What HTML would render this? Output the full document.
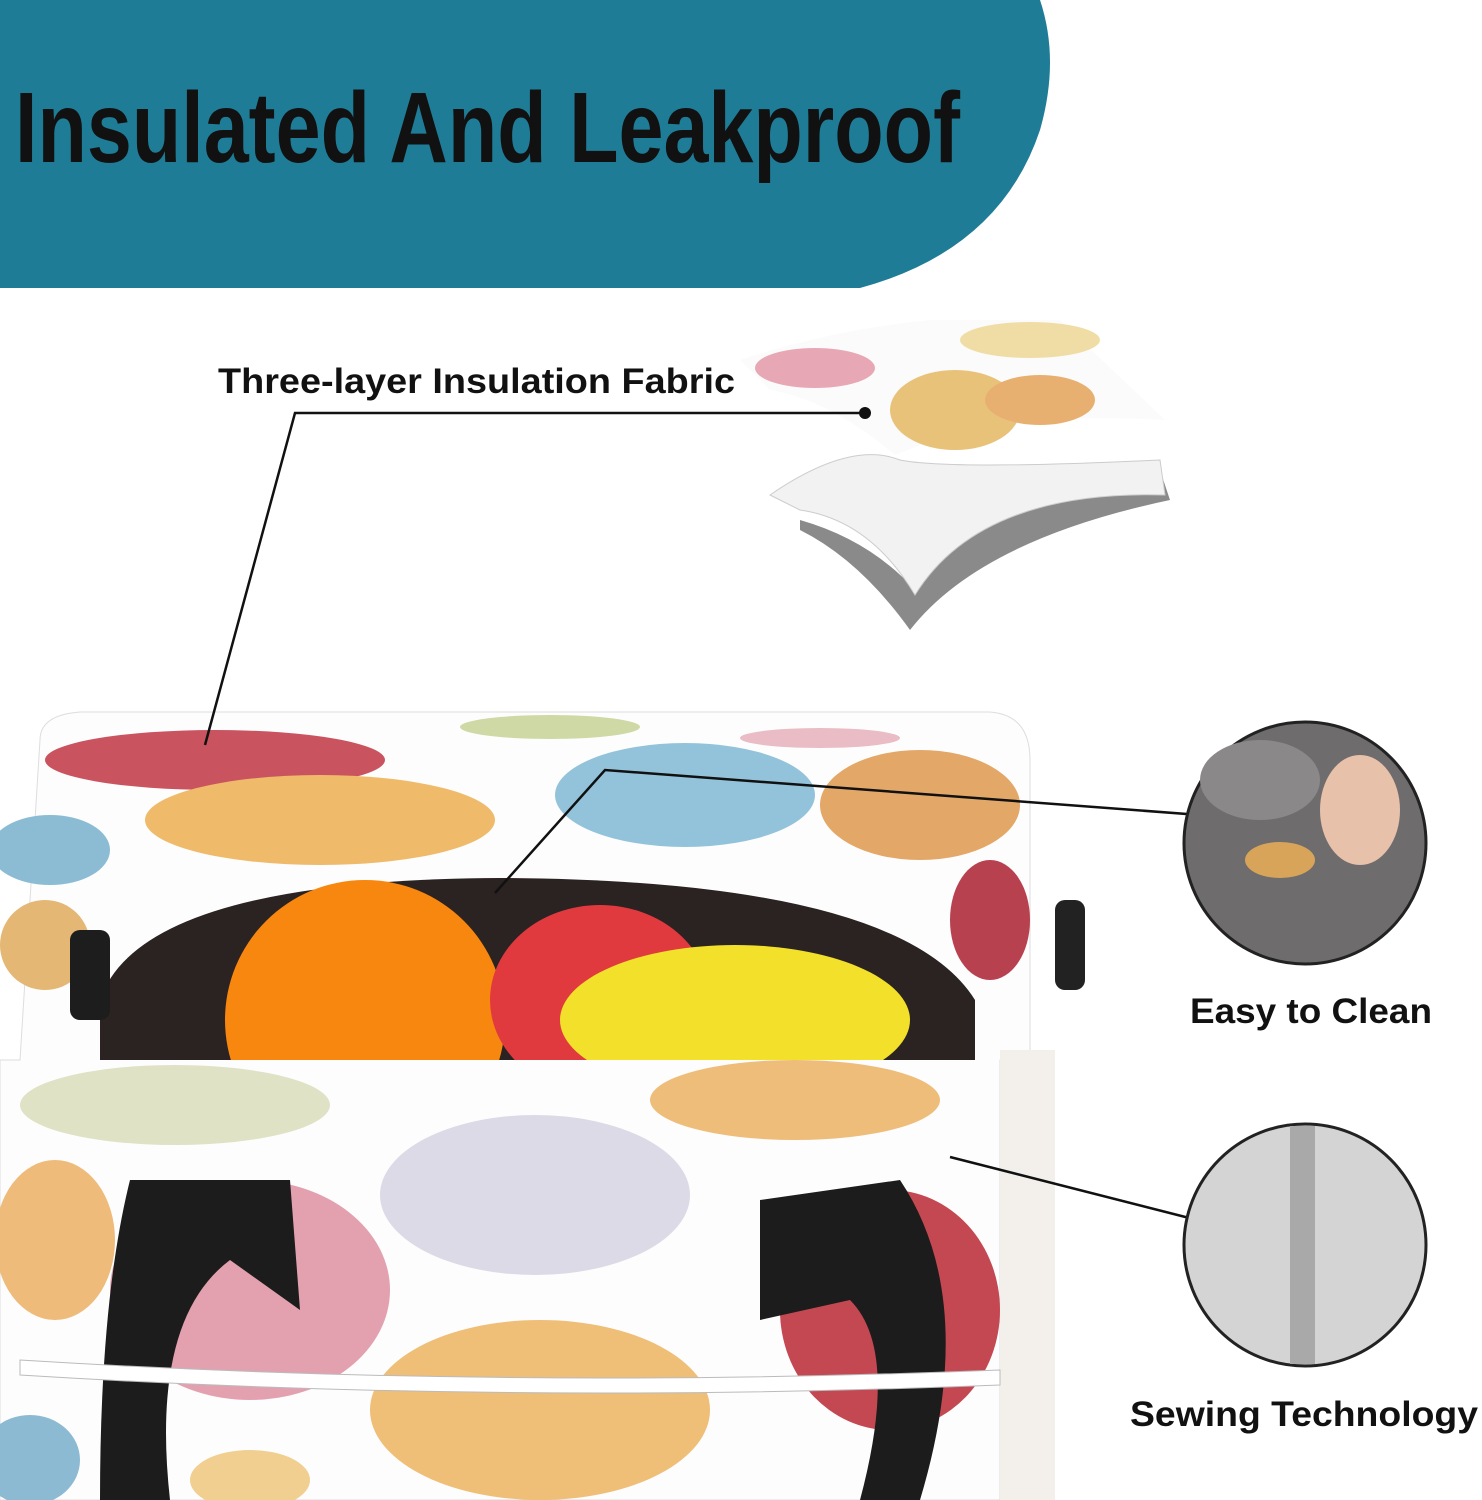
<!DOCTYPE html>
<html><head><meta charset="utf-8"><style>
html,body{margin:0;padding:0;background:#fff;}
svg{display:block}
text{font-family:"Liberation Sans",sans-serif;}
</style></head><body>
<svg width="1482" height="1500" viewBox="0 0 1482 1500" xmlns="http://www.w3.org/2000/svg">
<defs><clipPath id="op"><rect x="0" y="860" width="1000" height="200"/></clipPath></defs>
<rect width="1482" height="1500" fill="#fff"/>
<!-- banner -->
<path d="M0 0 H1040 Q1060 60 1040 130 Q1000 250 860 288 H0 Z" fill="#1f7c97"/>
<text x="15" y="162" font-size="100" font-weight="bold" fill="#111" textLength="945" lengthAdjust="spacingAndGlyphs">Insulated And Leakproof</text>

<!-- fabric layers -->
<path d="M800 530 Q860 560 910 630 Q980 540 1170 500 L1160 470 Q960 500 915 590 Q870 540 800 520 Z" fill="#8a8a8a"/>
<path d="M770 495 Q850 440 900 460 Q950 470 1160 460 L1165 495 Q980 490 915 595 Q870 520 800 510 Z" fill="#f2f2f2" stroke="#ccc"/>
<path d="M740 360 Q830 330 930 320 L1060 320 L1165 420 Q1000 410 895 455 Q830 400 770 390 Z" fill="#fbfbfb"/>
<ellipse cx="815" cy="368" rx="60" ry="20" fill="#e7a7b4"/>
<ellipse cx="955" cy="410" rx="65" ry="40" fill="#e9c27a"/>
<ellipse cx="1040" cy="400" rx="55" ry="25" fill="#e8b070"/>
<ellipse cx="1030" cy="340" rx="70" ry="18" fill="#f0dca5"/>

<!-- bag -->
<path d="M40 740 Q40 715 80 712 L990 712 Q1030 715 1030 760 L1030 1060 L1000 1060 L1000 1500 L0 1500 L0 1060 L20 1060 Z" fill="#fdfdfd" stroke="#ddd"/>
<rect x="1000" y="1050" width="55" height="450" fill="#f3f0ec"/>
<ellipse cx="215" cy="760" rx="170" ry="30" fill="#c9545f"/>
<ellipse cx="320" cy="820" rx="175" ry="45" fill="#efba6a"/>
<ellipse cx="685" cy="795" rx="130" ry="52" fill="#93c3da"/>
<ellipse cx="920" cy="805" rx="100" ry="55" fill="#e3a868"/>
<ellipse cx="50" cy="850" rx="60" ry="35" fill="#8bbcd4"/>
<ellipse cx="550" cy="727" rx="90" ry="12" fill="#cfd9a5"/>
<ellipse cx="820" cy="738" rx="80" ry="10" fill="#e9bcc6"/>
<ellipse cx="45" cy="945" rx="45" ry="45" fill="#e4b774"/>
<ellipse cx="990" cy="920" rx="40" ry="60" fill="#b8414f"/>
<path d="M100 1000 Q140 880 500 878 Q900 880 975 1000 L975 1060 L100 1060 Z" fill="#2b2222"/>
<g clip-path="url(#op)">
<circle cx="365" cy="1020" r="140" fill="#f7870f"/>
<ellipse cx="600" cy="1000" rx="110" ry="95" fill="#e03a3f"/>
<ellipse cx="735" cy="1020" rx="175" ry="75" fill="#f3e02a"/>
</g>
<rect x="70" y="930" width="40" height="90" rx="10" fill="#1d1d1d"/>
<rect x="1055" y="900" width="30" height="90" rx="10" fill="#222"/>
<ellipse cx="175" cy="1105" rx="155" ry="40" fill="#dfe2c5"/>
<ellipse cx="795" cy="1100" rx="145" ry="40" fill="#efbd7a"/>
<ellipse cx="535" cy="1195" rx="155" ry="80" fill="#dcdae6"/>
<ellipse cx="250" cy="1290" rx="140" ry="110" fill="#e3a1b0"/>
<ellipse cx="55" cy="1240" rx="60" ry="80" fill="#eebb7a"/>
<ellipse cx="890" cy="1310" rx="110" ry="120" fill="#c44852"/>
<ellipse cx="540" cy="1410" rx="170" ry="90" fill="#efbe77"/>
<ellipse cx="30" cy="1460" rx="50" ry="45" fill="#8cbad3"/>
<ellipse cx="250" cy="1480" rx="60" ry="30" fill="#f0cf90"/>
<path d="M130 1180 L290 1180 L300 1310 L230 1260 Q150 1320 170 1500 L100 1500 Q100 1300 130 1180 Z" fill="#1c1c1c"/>
<path d="M760 1200 L900 1180 Q980 1300 920 1500 L860 1500 Q900 1350 850 1300 L760 1320 Z" fill="#1c1c1c"/>
<path d="M20 1360 Q500 1390 1000 1370 L1000 1385 Q500 1405 20 1375 Z" fill="#fff" stroke="#bbb"/>

<!-- connectors -->
<g stroke="#111" stroke-width="2.5" fill="none">
<polyline points="865,413 295,413 205,745"/>
<polyline points="1200,815 605,770 495,893"/>
<line x1="950" y1="1157" x2="1205" y2="1222"/>
</g>
<circle cx="865" cy="413" r="6" fill="#111"/>
<circle cx="1200" cy="815" r="6" fill="#111"/>
<circle cx="1205" cy="1222" r="6" fill="#111"/>

<text x="218" y="393" font-size="35" font-weight="bold" fill="#111" textLength="517" lengthAdjust="spacingAndGlyphs">Three-layer Insulation Fabric</text>
<text x="1190" y="1023" font-size="35" font-weight="bold" fill="#111" textLength="242" lengthAdjust="spacingAndGlyphs">Easy to Clean</text>
<text x="1130" y="1426" font-size="35" font-weight="bold" fill="#111" textLength="348" lengthAdjust="spacingAndGlyphs">Sewing Technology</text>

<circle cx="1305" cy="843" r="121" fill="#6e6c6c" stroke="#222" stroke-width="3"/>
<ellipse cx="1260" cy="780" rx="60" ry="40" fill="#8a8888"/>
<ellipse cx="1360" cy="810" rx="40" ry="55" fill="#e8c1aa"/>
<ellipse cx="1280" cy="860" rx="35" ry="18" fill="#d8a45a"/>
<circle cx="1305" cy="1245" r="121" fill="#d4d4d4" stroke="#222" stroke-width="3"/>
<rect x="1290" y="1126" width="25" height="238" fill="#a9a9a9"/>
</svg>
</body></html>
